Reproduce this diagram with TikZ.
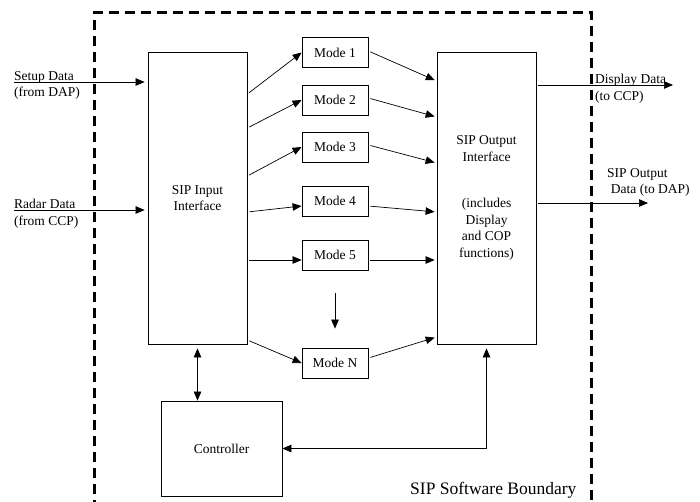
\documentclass[tikz,border=0pt]{standalone}
\usepackage{fontspec}
\setmainfont{Liberation Serif}
\usetikzlibrary{arrows.meta}

\begin{document}
\begin{tikzpicture}[x=1pt, y=-1pt, font=\fontsize{13.5}{16.5}\selectfont,
  blk/.style={draw, line width=0.8pt, inner sep=0pt, align=center},
  arr/.style={-{Triangle[length=9pt,width=7.5pt]}, line width=0.7pt},
  darr/.style={{Triangle[length=9pt,width=7.5pt]}-{Triangle[length=9pt,width=7.5pt]}, line width=0.7pt}]
  \useasboundingbox (0,0) rectangle (700,501);

  % Grenze der SIP-Software (gestrichelt, unten offen)
  \draw[line width=3pt, dash pattern=on 10pt off 6pt]
    (94.5,510) -- (94.5,12) -- (591,12) -- (591,510);
  \node[anchor=base east, font=\fontsize{17.5}{20}\selectfont] (bnd) at (580,494) {SIP Software Boundary};

  % Ein- und Ausgangsschnittstelle
  \node[blk, minimum width=99pt, minimum height=292pt] (in)  at (197.5,198) {SIP Input\\Interface};
  \node[blk, minimum width=99pt, minimum height=292pt] (out) at (486.5,198)
    {SIP Output\\Interface\\[30pt](includes\\Display\\and COP\\functions)};

  % Modi
  \node[blk, minimum width=66pt, minimum height=30pt] (m1) at (335,52.5) {Mode 1};
  \node[blk, minimum width=66pt, minimum height=30pt] (m2) at (335,100)  {Mode 2};
  \node[blk, minimum width=66pt, minimum height=30pt] (m3) at (335,147)  {Mode 3};
  \node[blk, minimum width=66pt, minimum height=30pt] (m4) at (335,201)  {Mode 4};
  \node[blk, minimum width=66pt, minimum height=30pt] (m5) at (335,255)  {Mode 5};
  \node[blk, minimum width=66pt, minimum height=30pt] (mN) at (335,363)  {Mode N};

  % Controller
  \node[blk, minimum width=121pt, minimum height=95pt] (ctl) at (221.5,448.5) {Controller};

  % Eingaenge von links
  \coordinate (setup) at (14,82);
  \coordinate (radar) at (14,210);
  \draw[arr, shorten >=3pt] (setup) -- (in.west |- setup);
  \draw[arr, shorten >=3pt] (radar) -- (in.west |- radar);
  \node[anchor=north west, inner sep=0pt, align=left] (lsetup) at (14,71) {Setup Data\\(from DAP)};
  \node[anchor=north west, inner sep=0pt, align=left] (lradar) at (14,199) {Radar Data\\(from CCP)};

  % Eingang -> Modi
  \draw[arr, shorten <=2pt] (in.east |- 0,94)  -- (m1.west);
  \draw[arr, shorten <=2pt] (in.east |- 0,128) -- (m2.west);
  \draw[arr, shorten <=2pt] (in.east |- 0,176) -- (m3.west);
  \draw[arr, shorten <=2pt] (in.east |- 0,212) -- (m4.west |- 0,206);
  \draw[arr, shorten <=2pt] (in.east |- 0,260) -- (m5.west |- 0,260);
  \draw[arr, shorten <=2pt] (in.east |- 0,340) -- (mN.west);

  % Modi -> Ausgang
  \draw[arr, shorten <=2pt, shorten >=2pt] (m1.east |- 0,51)  -- (out.west |- 0,81);
  \draw[arr, shorten <=2pt, shorten >=2pt] (m2.east |- 0,98)  -- (out.west |- 0,117);
  \draw[arr, shorten <=2pt, shorten >=2pt] (m3.east |- 0,145) -- (out.west |- 0,163);
  \draw[arr, shorten <=2pt, shorten >=2pt] (m4.east |- 0,206) -- (out.west |- 0,212);
  \draw[arr, shorten <=2pt, shorten >=2pt] (m5.east |- 0,260) -- (out.west |- 0,260);
  \draw[arr, shorten <=2pt, shorten >=2pt] (mN.east |- 0,358) -- (out.west |- 0,337);

  % weitere Modi
  \draw[arr, shorten <=23pt, shorten >=19pt] (m5.south) -- (mN.north);

  % Controller-Verbindungen
  \draw[darr, shorten <=4pt] (in.south) -- (in.south |- ctl.north);
  \draw[darr, shorten >=4pt] (ctl.east) -| (out.south);

  % Ausgaenge nach rechts
  \coordinate (disp) at (673,85);
  \coordinate (sipo) at (648,203);
  \draw[arr, shorten <=2pt] (out.east |- disp) -- (disp);
  \draw[arr, shorten <=2pt] (out.east |- sipo) -- (sipo);
  \node[anchor=north west, inner sep=0pt, align=left] (ldisp) at (595,74) {Display Data\\(to CCP)};
  \node[anchor=north west, inner sep=0pt, align=left] (lsipo) at (607,168) {SIP Output\\\;Data (to DAP)};
\end{tikzpicture}
\end{document}
